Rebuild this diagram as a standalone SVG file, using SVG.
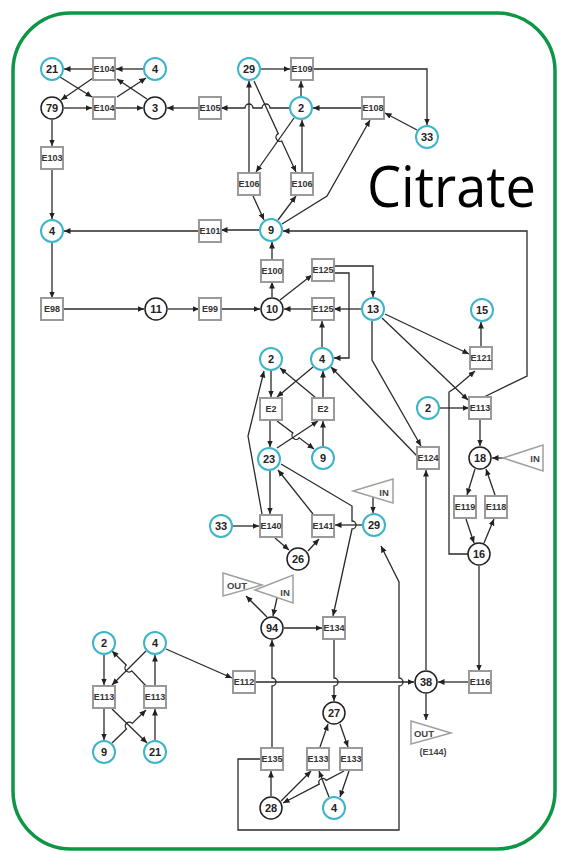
<svg xmlns="http://www.w3.org/2000/svg" width="562" height="851" viewBox="0 0 562 851">
<defs>
<marker id="a" viewBox="0 0 10 10" refX="10" refY="5" markerWidth="6.5" markerHeight="6.5" orient="auto" markerUnits="userSpaceOnUse"><path d="M0,0.5 L10,5 L0,9.5 z" fill="#222"/></marker>
<style>
.c{fill:#fff;stroke:#3db5c8;stroke-width:2}
.k{fill:#fff;stroke:#222;stroke-width:1.5}
.b{fill:#fff;stroke:#9a9a9a;stroke-width:2}
.tr{fill:none;stroke:#a0a0a0;stroke-width:1.5}
text{font-family:"Liberation Sans",Arial,sans-serif;font-weight:bold;fill:#222;text-anchor:middle;dominant-baseline:central}
.n{font-size:11px}
.bx{font-size:9px;fill:#333}
.io{font-size:9.5px;fill:#444}
.e{fill:none;stroke:#2a2a2a;stroke-width:1.3;marker-end:url(#a)}
</style>
</defs>
<rect x="13" y="13" width="542" height="836" rx="58" fill="#fff" stroke="#0c9645" stroke-width="3.5"/>
<text x="367" y="207" style="font-family:'Open Sans','Noto Sans',sans-serif;font-weight:normal;font-size:57px;fill:#000;text-anchor:start;dominant-baseline:auto" textLength="169" lengthAdjust="spacingAndGlyphs">Citrate</text>

<g id="connectors">
<path class="e" d="M92,69 L64,69"/>
<path class="e" d="M143,69 L116,69"/>
<path class="e" d="M60,77 L92,97"/>
<path class="e" d="M93,78 L61,100"/>
<path class="e" d="M64,108 L92,108"/>
<path class="e" d="M116,108 L143,108"/>
<path class="e" d="M117,97 L146,78"/>
<path class="e" d="M147,99 L117,79"/>
<path class="e" d="M52,120 L52,146"/>
<path class="e" d="M52,170 L52,219"/>
<path class="e" d="M199,108 L167,108"/>
<path class="e" d="M289,108 L270,108 A4,4 0 0 0 262,108 L253,108 A4,4 0 0 0 245,108 L221,108"/>
<path class="e" d="M301,96 L301,81"/>
<path class="e" d="M261,69 L290,69"/>
<path class="e" d="M313,69 L427,69 L427,125"/>
<path class="e" d="M417,130 L385,113"/>
<path class="e" d="M362,108 L313,108"/>
<path class="e" d="M294,118 L256,172"/>
<path class="e" d="M254,81 L278.3,133.7 A4,4 0 0 0 281.7,141 L296,172"/>
<path class="e" d="M249,172 L249,81"/>
<path class="e" d="M302,172 L302,120"/>
<path class="e" d="M253,196 L264,220"/>
<path class="e" d="M278,220 L296,196"/>
<path class="e" d="M282,224 L327,196 L370,120"/>
<path class="e" d="M259,230 L221,230"/>
<path class="e" d="M199,231 L64,231"/>
<path class="e" d="M272,260 L272,242"/>
<path class="e" d="M272,297 L272,282"/>
<path class="e" d="M52,243 L52,298"/>
<path class="e" d="M63,309 L144,309"/>
<path class="e" d="M168,309 L199,309"/>
<path class="e" d="M221,309 L260,309"/>
<path class="e" d="M312,309 L284,309"/>
<path class="e" d="M361,309 L334,309"/>
<path class="e" d="M280,300 L312,275"/>
<path class="e" d="M334,266 L373,266 L373,297"/>
<path class="e" d="M334,273 L349,273 L349,358 L334,358"/>
<path class="e" d="M385,314 L469,354"/>
<path class="e" d="M382,318 L468,400"/>
<path class="e" d="M372,321 L372,360 L421,446"/>
<path class="e" d="M417,456 L331,367"/>
<path class="e" d="M440,408 L469,408"/>
<path class="e" d="M481,347 L481,322"/>
<path class="e" d="M468,554 L449,554 L449,392 L455,388 L475,371"/>
<path class="e" d="M484,397 L527,376 L527,231 L283,231"/>
<path class="e" d="M480,420 L480,446"/>
<path class="e" d="M503,458 L492,458"/>
<path class="e" d="M475,469 L467,495"/>
<path class="e" d="M495,495 L486,469"/>
<path class="e" d="M466,519 L474,543"/>
<path class="e" d="M484,543 L494,519"/>
<path class="e" d="M479,566 L479,671"/>
<path class="e" d="M469,682 L438,682"/>
<path class="e" d="M426,694 L426,720"/>
<path class="e" d="M426,670 L426,470"/>
<path class="e" d="M271,371 L271,397"/>
<path class="e" d="M313,367 L277,397"/>
<path class="e" d="M316,398 L280,368"/>
<path class="e" d="M323,398 L323,371"/>
<path class="e" d="M322,347 L322,321"/>
<path class="e" d="M270,421 L270,447"/>
<path class="e" d="M277,421 L292.8,433 A4,4 0 0 0 299.2,437.8 L314,449"/>
<path class="e" d="M277,448 L318,421"/>
<path class="e" d="M323,446 L323,421"/>
<path class="e" d="M262,514 L248,436 L264,371"/>
<path class="e" d="M270,471 L270,514"/>
<path class="e" d="M233,526 L259,526"/>
<path class="e" d="M313,514 L278,470"/>
<path class="e" d="M275,538 L289,550"/>
<path class="e" d="M308,551 L319,539"/>
<path class="e" d="M362,525 L335,525"/>
<path class="e" d="M281,464 L352,506 L352,521 A4,4 0 0 1 352,529 L333,616"/>
<path class="e" d="M373,497 L373,513"/>
<path class="e" d="M261,759 L238,759 L238,830 L399,830 L399,686 A4,4 0 0 0 399,678 L399,582 L381,546"/>
<path class="e" d="M267,617 L246,596"/>
<path class="e" d="M277,598 L273,616"/>
<path class="e" d="M284,628 L322,628"/>
<path class="e" d="M334,640 L334,678 A4,4 0 0 1 334,686 L334,701"/>
<path class="e" d="M166,649 L232,678"/>
<path class="e" d="M256,682 L414,682"/>
<path class="e" d="M272,747 L272,686 A4,4 0 0 0 272,678 L272,640"/>
<path class="e" d="M271,796 L271,771"/>
<path class="e" d="M320,747 L328,724"/>
<path class="e" d="M340,724 L348,747"/>
<path class="e" d="M281,801 L311,771"/>
<path class="e" d="M344,771 L326.2,780.3 A4,4 0 0 0 319.2,784.1 L283,803"/>
<path class="e" d="M329,797 L319,771"/>
<path class="e" d="M349,771 L340,797"/>
<path class="e" d="M104,655 L104,685"/>
<path class="e" d="M146,651 L112,685"/>
<path class="e" d="M146,686 L131.8,670.9 A4,4 0 0 1 126.2,665.1 L112,651"/>
<path class="e" d="M155,685 L155,655"/>
<path class="e" d="M104,709 L104,740"/>
<path class="e" d="M112,709 L147,743"/>
<path class="e" d="M112,743 L126.4,729 A4,4 0 0 1 132.2,723.4 L146,710"/>
<path class="e" d="M155,740 L155,709"/>
</g>

<g id="n21a"><circle class="c" cx="52" cy="69" r="11"/><text class="n" x="52" y="69">21</text></g>
<g id="E104a"><rect class="b" x="93" y="58" width="22" height="22"/><text class="bx" x="104" y="69">E104</text></g>
<g id="n4a"><circle class="c" cx="155" cy="69" r="11"/><text class="n" x="155" y="69">4</text></g>
<g id="n79"><circle class="k" cx="52" cy="108" r="11"/><text class="n" x="52" y="108">79</text></g>
<g id="E104b"><rect class="b" x="93" y="97" width="22" height="22"/><text class="bx" x="104" y="108">E104</text></g>
<g id="n3"><circle class="k" cx="155" cy="108" r="11"/><text class="n" x="155" y="108">3</text></g>
<g id="E103"><rect class="b" x="41" y="147" width="22" height="22"/><text class="bx" x="52" y="158">E103</text></g>
<g id="n4b"><circle class="c" cx="52" cy="231" r="11"/><text class="n" x="52" y="231">4</text></g>
<g id="E98"><rect class="b" x="41" y="298" width="22" height="22"/><text class="bx" x="52" y="309">E98</text></g>
<g id="n11"><circle class="k" cx="156" cy="309" r="11"/><text class="n" x="156" y="309">11</text></g>
<g id="E99"><rect class="b" x="199" y="298" width="22" height="22"/><text class="bx" x="210" y="309">E99</text></g>
<g id="n10"><circle class="k" cx="272" cy="309" r="11"/><text class="n" x="272" y="309">10</text></g>
<g id="E100"><rect class="b" x="261" y="260" width="22" height="22"/><text class="bx" x="272" y="271">E100</text></g>
<g id="n9a"><circle class="c" cx="271" cy="230" r="11"/><text class="n" x="271" y="230">9</text></g>
<g id="E101"><rect class="b" x="199" y="220" width="22" height="22"/><text class="bx" x="210" y="231">E101</text></g>
<g id="E105"><rect class="b" x="199" y="97" width="22" height="22"/><text class="bx" x="210" y="108">E105</text></g>
<g id="n29a"><circle class="c" cx="249" cy="69" r="11"/><text class="n" x="249" y="69">29</text></g>
<g id="E109"><rect class="b" x="291" y="58" width="22" height="22"/><text class="bx" x="302" y="69">E109</text></g>
<g id="n2a"><circle class="c" cx="301" cy="108" r="11"/><text class="n" x="301" y="108">2</text></g>
<g id="E108"><rect class="b" x="362" y="97" width="22" height="22"/><text class="bx" x="373" y="108">E108</text></g>
<g id="n33a"><circle class="c" cx="427" cy="137" r="11"/><text class="n" x="427" y="137">33</text></g>
<g id="E106a"><rect class="b" x="238" y="173" width="22" height="22"/><text class="bx" x="249" y="184">E106</text></g>
<g id="E106b"><rect class="b" x="291" y="173" width="22" height="22"/><text class="bx" x="302" y="184">E106</text></g>
<g id="E125a"><rect class="b" x="312" y="259" width="22" height="22"/><text class="bx" x="323" y="270">E125</text></g>
<g id="E125b"><rect class="b" x="312" y="298" width="22" height="22"/><text class="bx" x="323" y="309">E125</text></g>
<g id="n13"><circle class="c" cx="373" cy="309" r="11"/><text class="n" x="373" y="309">13</text></g>
<g id="n15"><circle class="c" cx="482" cy="310" r="11"/><text class="n" x="482" y="310">15</text></g>
<g id="E121"><rect class="b" x="470" y="347" width="22" height="22"/><text class="bx" x="481" y="358">E121</text></g>
<g id="n2b"><circle class="c" cx="428" cy="408" r="11"/><text class="n" x="428" y="408">2</text></g>
<g id="E113a"><rect class="b" x="469" y="397" width="22" height="22"/><text class="bx" x="480" y="408">E113</text></g>
<g id="n18"><circle class="k" cx="480" cy="458" r="11"/><text class="n" x="480" y="458">18</text></g>
<g id="IN1"><path class="tr" d="M503,458 L543,445 L543,471 Z"/><text class="io" x="535" y="458">IN</text></g>
<g id="E119"><rect class="b" x="454" y="496" width="22" height="22"/><text class="bx" x="465" y="507">E119</text></g>
<g id="E118"><rect class="b" x="485" y="496" width="22" height="22"/><text class="bx" x="496" y="507">E118</text></g>
<g id="n16"><circle class="k" cx="479" cy="554" r="11"/><text class="n" x="479" y="554">16</text></g>
<g id="E124"><rect class="b" x="417" y="447" width="22" height="22"/><text class="bx" x="428" y="458">E124</text></g>
<g id="n2c"><circle class="c" cx="271" cy="359" r="11"/><text class="n" x="271" y="359">2</text></g>
<g id="n4c"><circle class="c" cx="322" cy="359" r="11"/><text class="n" x="322" y="359">4</text></g>
<g id="E2a"><rect class="b" x="260" y="398" width="22" height="22"/><text class="bx" x="271" y="409">E2</text></g>
<g id="E2b"><rect class="b" x="312" y="398" width="22" height="22"/><text class="bx" x="323" y="409">E2</text></g>
<g id="n23"><circle class="c" cx="269" cy="459" r="11"/><text class="n" x="269" y="459">23</text></g>
<g id="n9b"><circle class="c" cx="323" cy="458" r="11"/><text class="n" x="323" y="458">9</text></g>
<g id="n33b"><circle class="c" cx="221" cy="526" r="11"/><text class="n" x="221" y="526">33</text></g>
<g id="E140"><rect class="b" x="260" y="515" width="22" height="22"/><text class="bx" x="271" y="526">E140</text></g>
<g id="E141"><rect class="b" x="312" y="515" width="22" height="22"/><text class="bx" x="323" y="526">E141</text></g>
<g id="n26"><circle class="k" cx="298" cy="559" r="11"/><text class="n" x="298" y="559">26</text></g>
<g id="n29b"><circle class="c" cx="374" cy="525" r="11"/><text class="n" x="374" y="525">29</text></g>
<g id="IN2"><path class="tr" d="M353,491 L393,479 L393,503 Z"/><text class="io" x="384" y="492">IN</text></g>
<g id="OUT1"><path class="tr" d="M223,573 L262,585 L223,596 Z"/><text class="io" x="237" y="585">OUT</text></g>
<g id="IN3"><path class="tr" d="M255,590 L293,575 L293,603 Z"/><text class="io" x="285" y="592">IN</text></g>
<g id="n94"><circle class="k" cx="272" cy="628" r="11"/><text class="n" x="272" y="628">94</text></g>
<g id="E134"><rect class="b" x="323" y="617" width="22" height="22"/><text class="bx" x="334" y="628">E134</text></g>
<g id="n2d"><circle class="c" cx="104" cy="643" r="11"/><text class="n" x="104" y="643">2</text></g>
<g id="n4d"><circle class="c" cx="155" cy="643" r="11"/><text class="n" x="155" y="643">4</text></g>
<g id="E113b"><rect class="b" x="93" y="686" width="22" height="22"/><text class="bx" x="104" y="697">E113</text></g>
<g id="E113c"><rect class="b" x="144" y="686" width="22" height="22"/><text class="bx" x="155" y="697">E113</text></g>
<g id="n9c"><circle class="c" cx="104" cy="752" r="11"/><text class="n" x="104" y="752">9</text></g>
<g id="n21b"><circle class="c" cx="155" cy="752" r="11"/><text class="n" x="155" y="752">21</text></g>
<g id="E112"><rect class="b" x="233" y="671" width="22" height="22"/><text class="bx" x="244" y="682">E112</text></g>
<g id="n38"><circle class="k" cx="426" cy="682" r="11"/><text class="n" x="426" y="682">38</text></g>
<g id="E116"><rect class="b" x="469" y="671" width="22" height="22"/><text class="bx" x="480" y="682">E116</text></g>
<g id="OUT2"><path class="tr" d="M411,721 L451,733 L411,744 Z"/><text class="io" x="424" y="733">OUT</text><text class="io" x="433" y="752" style="font-size:9px">(E144)</text></g>
<g id="n27"><circle class="k" cx="334" cy="713" r="11"/><text class="n" x="334" y="713">27</text></g>
<g id="E135"><rect class="b" x="261" y="748" width="22" height="22"/><text class="bx" x="272" y="759">E135</text></g>
<g id="E133a"><rect class="b" x="307" y="748" width="22" height="22"/><text class="bx" x="318" y="759">E133</text></g>
<g id="E133b"><rect class="b" x="340" y="748" width="22" height="22"/><text class="bx" x="351" y="759">E133</text></g>
<g id="n28"><circle class="k" cx="271" cy="808" r="11"/><text class="n" x="271" y="808">28</text></g>
<g id="n4e"><circle class="c" cx="334" cy="808" r="11"/><text class="n" x="334" y="808">4</text></g>
</svg>
